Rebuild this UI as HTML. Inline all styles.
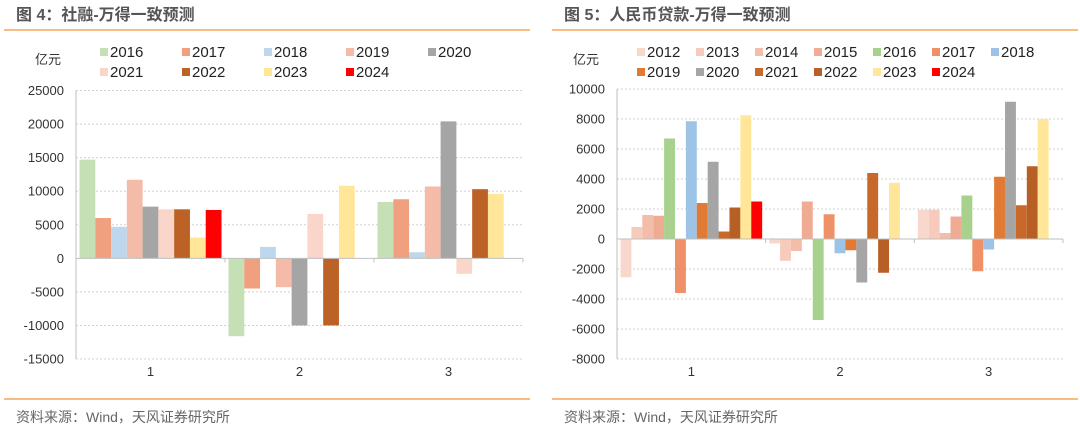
<!DOCTYPE html>
<html><head><meta charset="utf-8"><style>
body{margin:0;background:#fff;width:1080px;height:430px;overflow:hidden;font-family:"Liberation Sans","Noto Sans CJK SC",sans-serif}
svg text{font-family:"Liberation Sans","Noto Sans CJK SC",sans-serif}
</style></head><body>
<svg id="s" width="1080" height="430">
<text x="16" y="20" font-size="16" font-weight="bold" fill="#555">图 4：社融-万得一致预测</text>
<line x1="4" y1="30" x2="530" y2="30" stroke="#f2a65a" stroke-width="1.5"/>
<text x="564" y="20" font-size="16" font-weight="bold" fill="#555">图 5：人民币贷款-万得一致预测</text>
<line x1="552" y1="30" x2="1078" y2="30" stroke="#f2a65a" stroke-width="1.5"/>
<line x1="4" y1="399" x2="530" y2="399" stroke="#f2a65a" stroke-width="1.5"/>
<line x1="552" y1="399" x2="1078" y2="399" stroke="#f2a65a" stroke-width="1.5"/>
<text x="16" y="422" font-size="14" fill="#666">资料来源：Wind，天风证券研究所</text>
<text x="564" y="422" font-size="14" fill="#666">资料来源：Wind，天风证券研究所</text>
<text x="35" y="64" font-size="13" fill="#333">亿元</text>
<text x="573" y="64" font-size="13" fill="#333">亿元</text>
</svg>
<script>
const categories=["1","2","3"];
const leftSeries=["2016","2017","2018","2019","2020","2021","2022","2023","2024"];
const leftColors=["#c5e0b4","#f0a07e","#bdd7ee","#f4bca8","#a5a5a5","#f9d5ca","#bd6226","#ffe699","#ff0000"];
const left2016=[14700,-11600,8400];
const left2017=[6000,-4500,8800];
const left2018=[4700,1700,900];
const left2019=[11700,-4300,10700];
const left2020=[7700,-10000,20400];
const left2021=[7300,6600,-2300];
const left2022=[7300,-10000,10300];
const left2023=[3100,10800,9600];
const left2024=[7200,null,null];
const leftTicks=[25000,20000,15000,10000,5000,0,-5000,-10000,-15000];

const rightSeries=["2012","2013","2014","2015","2016","2017","2018","2019","2020","2021","2022","2023","2024"];
const rightColors=["#f8d8cc","#f7cbbb","#f4bda9","#efac93","#a9d18e","#ef9068","#9dc3e6","#e07a35","#a5a5a5","#c8692a","#b75f25","#ffe699","#ff0000"];
const right2012=[-2550,-300,1950];
const right2013=[800,-1450,1950];
const right2014=[1600,-800,400];
const right2015=[1550,2500,1500];
const right2016=[6700,-5400,2900];
const right2017=[-3600,1650,-2150];
const right2018=[7850,-950,-700];
const right2019=[2400,-750,4150];
const right2020=[5150,-2900,9150];
const right2021=[500,4400,2250];
const right2022=[2100,-2250,4850];
const right2023=[8250,3750,8000];
const right2024=[2500,null,null];
const rightTicks=[10000,8000,6000,4000,2000,0,-2000,-4000,-6000,-8000];

const NS="http://www.w3.org/2000/svg";
const svg=document.getElementById('s');
function mk(t,a){const e=document.createElementNS(NS,t);for(const k in a)e.setAttribute(k,a[k]);svg.appendChild(e);return e;}

function drawChart(cfg){
  const {px,pr,yTop,yBot,ticks,series,colors,data,pad,tag,legX,legStep,legPerRow}=cfg;
  const vmax=ticks[0],vmin=ticks[ticks.length-1];
  const y=v=>yTop+(vmax-v)/(vmax-vmin)*(yBot-yTop);
  const cw=(pr-px)/categories.length;
  const bw=(cw-2*pad)/series.length;
  ticks.forEach(t=>{
    if(t!==0){const g=mk('line',{x1:px,x2:pr,y1:y(t),y2:y(t),stroke:'#d0d0d0','stroke-dasharray':'2,2'});
    
    }
    const l=mk('text',{x:px-12,y:y(t)+4.5,'text-anchor':'end','font-size':13,fill:'#333'});
    l.textContent=t;
    
    
  });
  const ax=mk('line',{x1:px,x2:px,y1:yTop,y2:yBot,stroke:'#bfbfbf'});
  
  
  categories.forEach((c,ci)=>{
    const cx=px+ci*cw;
    data.forEach((arr,si)=>{
      const v=arr[ci]; if(v===null) return;
      const r=mk('rect',{x:cx+pad+si*bw,y:Math.min(y(v),y(0)),width:bw,height:Math.abs(y(v)-y(0)),fill:colors[si]});
      
      
    });
    const l=mk('text',{x:cx+cw/2,y:yBot+17,'text-anchor':'middle','font-size':13,fill:'#333'});
    l.textContent=c;
    
    
  });
  const xa=mk('line',{x1:px,x2:pr,y1:y(0),y2:y(0),stroke:'#bfbfbf'});
  
  
  for(let i=1;i<=categories.length;i++){
    const tk=mk('line',{x1:px+i*cw,x2:px+i*cw,y1:y(0),y2:y(0)+4,stroke:'#bfbfbf'});
    
    
  }
  series.forEach((s,i)=>{
    const lx=legX+(i%legPerRow)*legStep, ly=i<legPerRow?53:73;
    const m=mk('rect',{x:lx,y:ly-5,width:8,height:8,fill:colors[i]});
    
    
    const t=mk('text',{x:lx+10,y:ly+4,'font-size':15,fill:'#222'});
    t.textContent=s;
    
    
  });
}
drawChart({px:76,pr:523,yTop:90.5,yBot:359,ticks:leftTicks,series:leftSeries,colors:leftColors,
  data:[left2016,left2017,left2018,left2019,left2020,left2021,left2022,left2023,left2024],pad:3.5,tag:'shrz',legX:100,legStep:82,legPerRow:5});
drawChart({px:617,pr:1063,yTop:89,yBot:359,ticks:rightTicks,series:rightSeries,colors:rightColors,
  data:[right2012,right2013,right2014,right2015,right2016,right2017,right2018,right2019,right2020,right2021,right2022,right2023,right2024],pad:3.5,tag:'loan',legX:637,legStep:59,legPerRow:7});
</script>
</body></html>
